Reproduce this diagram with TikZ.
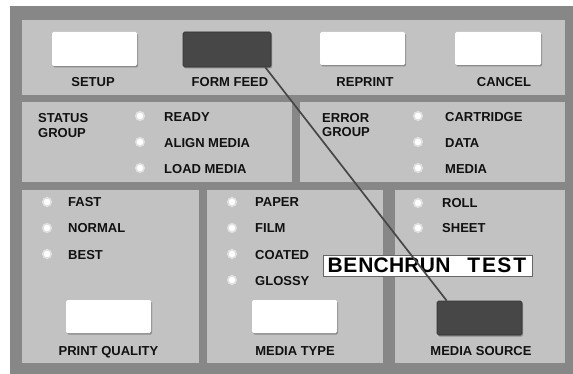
\documentclass[tikz,border=0pt]{standalone}
\usepackage{fontspec}
\setmainfont{Liberation Sans}
\definecolor{outergray}{HTML}{878787}
\definecolor{panelgray}{HTML}{C2C2C2}
\definecolor{darkbtn}{HTML}{474747}
\definecolor{ink}{HTML}{111111}
\newcommand{\cel}[1]{\makebox[15.4pt]{#1}}
\tikzset{
  lbl/.style={font=\fontsize{13}{13}\selectfont\bfseries, text=ink, inner sep=0pt, anchor=base west},
  clbl/.style={lbl, anchor=base},
  led/.style={circle, fill=white, minimum size=8.5pt, inner sep=0pt, draw=white!50!panelgray, line width=1.6pt},
  btnbase/.style={rectangle, inner sep=0pt, rounded corners=1.5pt,
     preaction={fill=black!45, transform canvas={shift={(1.2pt,-1.5pt)}}}},
  whitebtn/.style={btnbase, fill=white},
  darkbtn/.style={btnbase, fill=darkbtn, draw=black!80, line width=0.6pt},
  panelbox/.style={fill=panelgray}
}
\begin{document}
\begin{tikzpicture}[x=1pt,y=-1pt]
\useasboundingbox (0,0) rectangle (573,374);
\fill[white] (0,0) rectangle (573,374);
\fill[outergray] (10,6) rectangle (573,374);
% panels
\fill[panelbox] (22,20) rectangle (565,95);
\fill[panelbox] (22,102) rectangle (292,182);
\fill[panelbox] (300,102) rectangle (565,182);
\fill[panelbox] (22,190) rectangle (199,363);
\fill[panelbox] (207,190) rectangle (383,363);
\fill[panelbox] (395,190) rectangle (565,363);

% top row buttons
\node[whitebtn, minimum width=85pt, minimum height=34pt] (setup) at (94.5,49) {};
\node[darkbtn, minimum width=88pt, minimum height=35pt] (ff) at (227,49.5) {};
\node[whitebtn, minimum width=85pt, minimum height=33pt] (reprint) at (362.5,48.5) {};
\node[whitebtn, minimum width=86pt, minimum height=33pt] (cancel) at (498,48.5) {};
\node[clbl] (lsetup) at (93,87) {SETUP};
\node[clbl] (lff) at (230,87) {FORM FEED};
\node[clbl] (lreprint) at (365,87) {REPRINT};
\node[clbl] (lcancel) at (504,87) {CANCEL};

% status group
\node[lbl] (st1) at (38,123) {STATUS};
\node[lbl] (st2) at (38,138) {GROUP};
\node[led] (ledready) at (140,116) {};
\node[led] (ledalign) at (140,142) {};
\node[led] (ledload) at (140,168) {};
\node[lbl] (lready) at (164,122) {READY};
\node[lbl] (lalign) at (164,148) {ALIGN MEDIA};
\node[lbl] (lload) at (164,174) {LOAD MEDIA};

% error group
\node[lbl] (er1) at (322,123) {ERROR};
\node[lbl] (er2) at (322,137) {GROUP};
\node[led] (ledcart) at (418,116) {};
\node[led] (leddata) at (418,142) {};
\node[led] (ledmedia) at (418,168) {};
\node[lbl] (lcart) at (445,122) {CARTRIDGE};
\node[lbl] (ldata) at (445,148) {DATA};
\node[lbl] (lmedia) at (445,174) {MEDIA};

% print quality
\node[led] (ledfast) at (47,202) {};
\node[led] (lednormal) at (47,228) {};
\node[led] (ledbest) at (47,254) {};
\node[lbl] (lfast) at (68,207) {FAST};
\node[lbl] (lnormal) at (68,233) {NORMAL};
\node[lbl] (lbest) at (68,259) {BEST};
\node[whitebtn, minimum width=85pt, minimum height=33pt] (pq) at (108.5,316.5) {};
\node[clbl] (lpq) at (108.5,355) {PRINT QUALITY};

% media type
\node[led] (ledpaper) at (232,202) {};
\node[led] (ledfilm) at (232,228) {};
\node[led] (ledcoated) at (232,254) {};
\node[led] (ledglossy) at (232,280) {};
\node[lbl] (lpaper) at (255,207) {PAPER};
\node[lbl] (lfilm) at (255,233) {FILM};
\node[lbl] (lcoated) at (255,259) {COATED};
\node[lbl] (lglossy) at (255,285) {GLOSSY};
\node[whitebtn, minimum width=85pt, minimum height=33pt] (mt) at (294.5,316.5) {};
\node[clbl] (lmt) at (295,355) {MEDIA TYPE};

% media source
\node[led] (ledroll) at (418,203) {};
\node[led] (ledsheet) at (418,228) {};
\node[lbl] (lroll) at (442,208) {ROLL};
\node[lbl] (lsheet) at (442,233) {SHEET};
\node[darkbtn, minimum width=85pt, minimum height=34pt] (ms) at (479.5,318) {};
\node[clbl] (lms) at (481,355) {MEDIA SOURCE};

% benchrun label
\node[rectangle, fill=white, draw=black!60, line width=0.6pt, minimum width=209pt, minimum height=21pt, inner sep=0pt,
      font=\fontsize{21}{21}\selectfont\bfseries, text=black] (bench) at (427.5,265.5)
  {\cel{B}\cel{E}\cel{N}\cel{C}\cel{H}\cel{R}\cel{U}\cel{N}\cel{ }\cel{T}\cel{E}\cel{S}\cel{T}};

% connector
\draw[black!72, line width=1.7pt] ([xshift=-6pt]ff.south east) -- ([xshift=10pt]ms.north west);
\end{tikzpicture}
\end{document}
